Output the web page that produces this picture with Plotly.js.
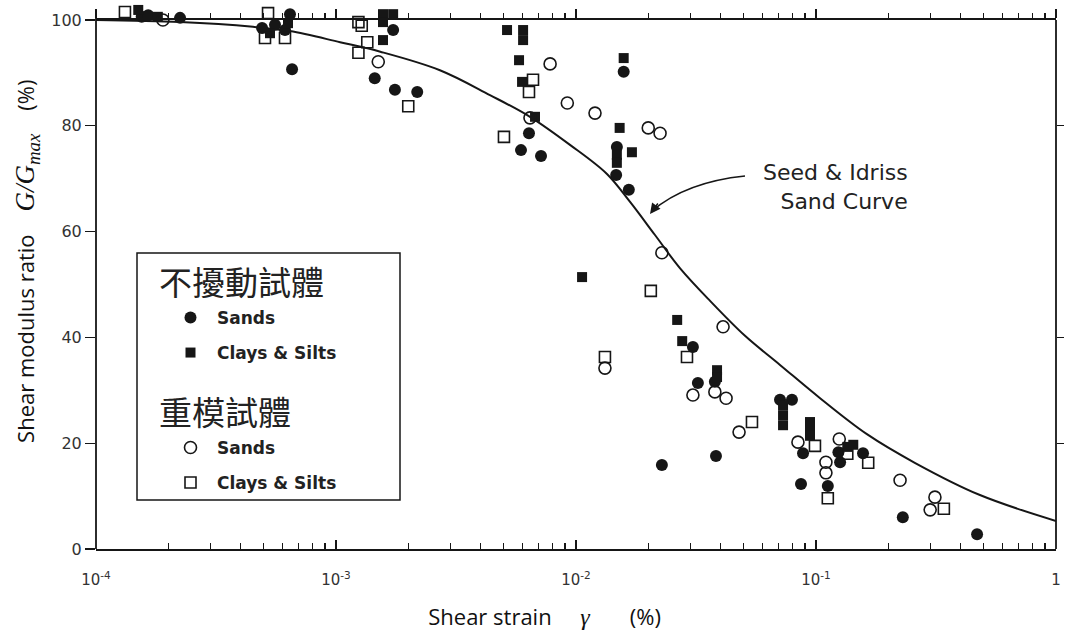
<!DOCTYPE html>
<html><head><meta charset="utf-8">
<script src="https://cdn.plot.ly/plotly-3.0.1.min.js"></script>
<style>html,body{margin:0;padding:0;background:#fff}#chart{width:1070px;height:639px}</style>
</head><body><div id="chart"></div>
<script>
// Seed & Idriss sand curve
const curveStrain = [1e-4, 2.24e-4, 4.51e-4, 6.43e-4, 1.04e-3, 1.53e-3, 2.71e-3, 4.38e-3, 6.43e-3, 9.44e-3, 0.01346, 0.0168, 0.0213, 0.0271, 0.0362, 0.0506, 0.0708, 0.104, 0.163, 0.258, 0.482, 1];
const curveRatio  = [100, 99.6, 98.7, 97.9, 95.8, 94.0, 90.5, 85.8, 81.7, 76.4, 70.9, 65.6, 59.4, 53.1, 46.9, 40.3, 34.8, 28.5, 21.7, 16.3, 10.2, 5.3];

// Undisturbed specimens
const undSandStrain = [1.55e-4, 1.65e-4, 2.24e-4, 4.92e-4, 5.57e-4, 6.13e-4, 6.43e-4, 6.56e-4, 1.45e-3, 1.73e-3, 1.76e-3, 2.18e-3, 5.9e-3, 6.37e-3, 7.15e-3, 0.0147, 0.0148, 0.0158, 0.0166, 0.0228, 0.0307, 0.0322, 0.0379, 0.0383, 0.0708, 0.0794, 0.0866, 0.0883, 0.112, 0.124, 0.126, 0.157, 0.23, 0.469];
const undSandRatio  = [100.6, 100.9, 100.4, 98.5, 99.1, 98.1, 101.1, 90.7, 89, 98.1, 86.8, 86.4, 75.4, 78.6, 74.3, 70.7, 76, 90.2, 67.9, 15.9, 38.2, 31.4, 31.6, 17.6, 28.2, 28.2, 12.3, 18.1, 11.9, 18.3, 16.4, 18.1, 6, 2.8];
const undClayStrain = [1.50e-4, 1.81e-4, 5.31e-4, 6.31e-4, 1.57e-3, 1.57e-3, 1.73e-3, 1.57e-3, 5.16e-3, 5.79e-3, 5.96e-3, 6.02e-3, 6.02e-3, 6.75e-3, 0.0106, 0.0148, 0.0148, 0.0152, 0.0158, 0.0171, 0.0264, 0.0277, 0.0387, 0.0387, 0.0729, 0.0729, 0.0729, 0.0944, 0.0944, 0.0944, 0.135, 0.143];
const undClayRatio  = [101.9, 100.6, 97.5, 99.4, 101.1, 99.6, 101.1, 96.2, 98.1, 92.4, 88.3, 98.1, 96.2, 81.7, 51.4, 74.5, 73, 79.6, 92.8, 75, 43.3, 39.3, 33.8, 32.5, 27.2, 25.3, 23.4, 24, 22.5, 21.4, 19.3, 19.7];

// Remolded specimens
const remSandStrain = [1.90e-4, 1.50e-3, 6.43e-3, 7.8e-3, 9.2e-3, 0.012, 0.0132, 0.02, 0.0224, 0.0228, 0.0307, 0.0379, 0.041, 0.0422, 0.0478, 0.0841, 0.110, 0.110, 0.125, 0.224, 0.299, 0.313];
const remSandRatio  = [100, 92.1, 81.5, 91.7, 84.3, 82.4, 34.2, 79.6, 78.6, 56, 29.1, 29.7, 42, 28.5, 22.1, 20.2, 16.4, 14.4, 20.8, 13, 7.4, 9.8];
const remClayStrain = [1.32e-4, 5.06e-4, 5.21e-4, 6.13e-4, 1.24e-3, 1.24e-3, 1.28e-3, 1.35e-3, 2.0e-3, 5.01e-3, 6.37e-3, 6.62e-3, 0.0132, 0.0205, 0.029, 0.0541, 0.099, 0.112, 0.135, 0.165, 0.341];
const remClayRatio  = [101.5, 96.6, 101.3, 96.6, 99.6, 93.8, 98.9, 95.8, 83.7, 77.9, 86.4, 88.7, 36.3, 48.8, 36.3, 24, 19.5, 9.6, 18, 16.3, 7.6];

// Ticks and labels
const xTickVals = [1e-4, 1e-3, 1e-2, 1e-1, 1];
const xTickText = ['10<sup>-4</sup>', '10<sup>-3</sup>', '10<sup>-2</sup>', '10<sup>-1</sup>', '1'];
const yTickVals = [0, 20, 40, 60, 80, 100];
const rightTickVals = [20, 40, 80];
const legendHeaders = ['不擾動試體', '重模試體'];
const seriesNames = ['Sands', 'Clays & Silts'];
const curveLabel = 'Seed &amp; Idriss<br>Sand Curve';
const yMax = 103.4, yTop = 100;

const minorVals = [];
for (let e = -4; e < 0; e++) for (let m = 2; m <= 9; m++) minorVals.push(m * Math.pow(10, e));

// pixel -> paper helpers for decorations (plot area: x 96..1056, y 2..549)
const PL = 96, PR = 1056, PT = 2, PB = 549;
const X = px => (px - PL) / (PR - PL);
const Y = py => (PB - py) / (PB - PT);

const INK = '#161616';
const headFont = {family: 'Noto Sans CJK TC', size: 33, color: '#222'};
const sp = n => '&nbsp;'.repeat(n);

const traces = [
  {x: [], y: [], xaxis: 'x2', yaxis: 'y3', showlegend: false, hoverinfo: 'skip'},
  {x: [], y: [], xaxis: 'x', yaxis: 'y2', showlegend: false, hoverinfo: 'skip'},
  {x: curveStrain, y: curveRatio, mode: 'lines', line: {color: INK, width: 2, shape: 'spline', smoothing: 1}, showlegend: false, hoverinfo: 'skip'},
  {x: undSandStrain, y: undSandRatio, mode: 'markers', name: seriesNames[0],
   marker: {symbol: 'circle', size: 12, color: INK}, legend: 'legend', legendgroup: 'us',
   legendgrouptitle: {text: legendHeaders[0], font: headFont}},
  {x: undClayStrain, y: undClayRatio, mode: 'markers', name: seriesNames[1],
   marker: {symbol: 'square', size: 10, color: INK}, legend: 'legend', legendgroup: 'uc'},
  {x: remSandStrain, y: remSandRatio, mode: 'markers', name: seriesNames[0],
   marker: {symbol: 'circle-open', size: 12, color: INK, line: {width: 1.6}}, legend: 'legend2', legendgroup: 'rs',
   legendgrouptitle: {text: legendHeaders[1], font: headFont}},
  {x: remClayStrain, y: remClayRatio, mode: 'markers', name: seriesNames[1],
   marker: {symbol: 'square-open', size: 11, color: INK, line: {width: 1.6}}, legend: 'legend2', legendgroup: 'rc'}
];

const legFont = {family: 'DejaVu Sans', size: 17, color: '#222', weight: 'bold'};
const layout = {
  width: 1070, height: 639,
  margin: {l: PL, r: 1070 - PR, t: PT, b: 639 - PB},
  paper_bgcolor: '#fff', plot_bgcolor: 'rgba(0,0,0,0)',
  showlegend: true,
  xaxis: {type: 'log', range: [-4, 0], showgrid: false, zeroline: false,
    showline: true, linecolor: INK, linewidth: 1.8,
    tickmode: 'array', tickvals: xTickVals, ticktext: xTickText,
    ticks: 'inside', ticklen: 9, tickwidth: 1.3, tickcolor: INK,
    minor: {tickmode: 'array', tickvals: minorVals, ticks: 'inside', ticklen: 6, tickwidth: 1.2, tickcolor: INK, showgrid: false},
    tickfont: {family: 'DejaVu Sans', size: 15, color: '#333'}, ticklabelstandoff: 16,
    title: {text: 'Shear strain' + sp(5) + '<span style="font-family:Liberation Serif;font-style:italic;font-size:24px">γ</span>' + sp(7) + '(%)' + sp(11),
      font: {family: 'Open Sans', size: 22, color: '#111'}, standoff: 22}
  },
  xaxis2: {type: 'log', range: [-4, 0], side: 'top', anchor: 'y3',
    showgrid: false, zeroline: false,
    showline: true, linecolor: INK, linewidth: 1.8, showticklabels: false,
    tickmode: 'array', tickvals: xTickVals, ticks: 'outside', ticklen: 9, tickwidth: 1.3, tickcolor: INK,
    minor: {tickmode: 'array', tickvals: minorVals, ticks: 'outside', ticklen: 5, tickwidth: 1.2, tickcolor: INK, showgrid: false}
  },
  yaxis: {range: [0, yMax], showgrid: false, zeroline: false, showline: false,
    tickmode: 'array', tickvals: yTickVals, ticks: 'outside', ticklen: 10, tickwidth: 1.3, tickcolor: INK,
    tickfont: {family: 'DejaVu Sans', size: 16, color: '#333'},
    title: {text: sp(5) + 'Shear modulus ratio' + sp(4) + '<span style="font-family:Liberation Serif;font-style:italic;font-size:27px">G/G<sub>max</sub></span>' + sp(4) + '(%)',
      font: {family: 'Open Sans', size: 22, color: '#111'}, standoff: 10}
  },
  yaxis2: {range: [0, yMax], overlaying: 'y', side: 'right', anchor: 'x', showgrid: false, zeroline: false,
    showline: false, showticklabels: false,
    tickmode: 'array', tickvals: rightTickVals, ticks: 'outside', ticklen: 7, tickwidth: 1.3, tickcolor: INK},
  yaxis3: {domain: [0, yTop / yMax], range: [0, yTop], anchor: 'x2', visible: false, showgrid: false, zeroline: false},
  legend: {x: X(154), y: Y(254), xanchor: 'left', yanchor: 'top', bgcolor: 'rgba(0,0,0,0)', borderwidth: 0,
    font: legFont, tracegroupgap: 10, indentation: 10, itemwidth: 43},
  legend2: {x: X(154), y: Y(384), xanchor: 'left', yanchor: 'top', bgcolor: 'rgba(0,0,0,0)', borderwidth: 0,
    font: legFont, tracegroupgap: 10, indentation: 10, itemwidth: 43},
  shapes: [
    {type: 'line', xref: 'paper', yref: 'y', x0: 0, x1: 0, y0: 0, y1: yTop + 1.8, line: {color: INK, width: 1.8}},
    {type: 'line', xref: 'paper', yref: 'y', x0: 1, x1: 1, y0: 0, y1: yTop, line: {color: INK, width: 1.8}},
    {type: 'rect', xref: 'paper', yref: 'paper', x0: X(137), x1: X(400), y0: Y(500), y1: Y(253), line: {color: INK, width: 1.5}},
    {type: 'path', xref: 'paper', yref: 'paper',
     path: 'M ' + X(745) + ' ' + Y(176) + ' Q ' + X(686) + ' ' + Y(182) + ' ' + X(652) + ' ' + Y(211),
     line: {color: INK, width: 1.6}}
  ],
  annotations: [
    {xref: 'paper', yref: 'paper', x: X(650), y: Y(214), text: '', showarrow: true, ax: 9, ay: -12,
     arrowhead: 2, arrowsize: 1.4, arrowwidth: 1.5, arrowcolor: INK},
    {xref: 'paper', yref: 'paper', x: X(910), y: Y(187), xanchor: 'right', yanchor: 'middle', align: 'right',
     text: curveLabel, showarrow: false, font: {family: 'DejaVu Sans', size: 22, color: '#222'}}
  ]
};

Plotly.newPlot('chart', traces, layout, {displayModeBar: false, staticPlot: true});
</script></body></html>
